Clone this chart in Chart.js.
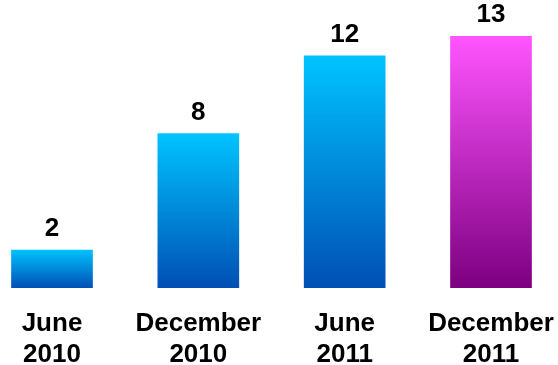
<!DOCTYPE html>
<html>
<head>
<meta charset="utf-8">
<script src="https://cdn.jsdelivr.net/npm/chart.js@4/dist/chart.umd.min.js"></script>
<style>
  html, body { margin: 0; padding: 0; background: #fff; }
  #wrap { width: 558px; height: 365px; }
</style>
</head>
<body>
<div id="wrap"><canvas id="chart"></canvas></div>
<script>
const periods = [['June', '2010'], ['December', '2010'], ['June', '2011'], ['December', '2011']];
const counts = [2, 8, 12, 13];
// top / bottom colour of each bar's gradient
const topColors = ['#00c4ff', '#00c4ff', '#00c4ff', '#ff55ff'];
const bottomColors = ['#004fb4', '#004fb4', '#004fb4', '#7c0080'];

Chart.defaults.font.family = 'Arial, "Liberation Sans", sans-serif';

const barFill = (ctx) => {
  const chart = ctx.chart;
  if (!chart.chartArea) return topColors[ctx.dataIndex];
  const y = chart.scales.y;
  const g = chart.ctx.createLinearGradient(0, y.getPixelForValue(ctx.raw), 0, y.getPixelForValue(0));
  g.addColorStop(0, topColors[ctx.dataIndex]);
  g.addColorStop(1, bottomColors[ctx.dataIndex]);
  return g;
};

// numbers over the bars
const valueLabels = {
  id: 'valueLabels',
  afterDatasetsDraw(chart) {
    const c = chart.ctx;
    const meta = chart.getDatasetMeta(0);
    c.save();
    c.font = 'bold 26px Arial, "Liberation Sans", sans-serif';
    c.fillStyle = '#000';
    c.textAlign = 'center';
    c.textBaseline = 'alphabetic';
    meta.data.forEach((bar, i) => {
      c.fillText(String(counts[i]), bar.x, bar.y - 13);
    });
    c.restore();
  }
};

new Chart(document.getElementById('chart'), {
  type: 'bar',
  data: {
    labels: periods,
    datasets: [{
      data: counts,
      backgroundColor: barFill,
      borderColor: 'rgba(255,255,255,0.2)',
      borderWidth: 1,
      barThickness: 83,
      clip: false
    }]
  },
  options: {
    responsive: true,
    maintainAspectRatio: false,
    animation: false,
    layout: { padding: { top: 16, left: 52, right: 67, bottom: 0 } },
    plugins: { legend: { display: false }, tooltip: { enabled: false } },
    scales: {
      x: {
        offset: false,
        grid: { display: false, drawTicks: false },
        border: { display: false },
        ticks: {
          color: '#000',
          padding: 20,
          maxRotation: 0,
          autoSkip: false,
          font: { size: 26, weight: 'bold', lineHeight: 1.2 }
        },
        afterFit: (scale) => {
          scale.height = 77;
          // the side padding comes from the layout alone
          scale.paddingLeft = 0;
          scale.paddingRight = 0;
        }
      },
      y: {
        display: false,
        min: 0,
        max: 14
      }
    }
  },
  plugins: [valueLabels]
});
</script>
</body>
</html>
